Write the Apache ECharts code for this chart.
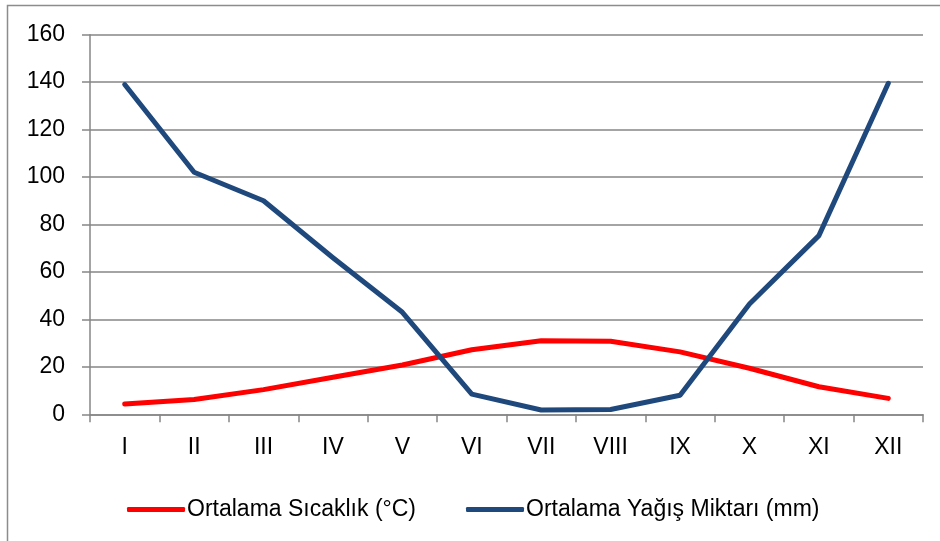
<!DOCTYPE html>
<html><head><meta charset="utf-8">
<script src="https://cdn.jsdelivr.net/npm/echarts@6/dist/echarts.min.js"></script>
<style>html,body{margin:0;padding:0;background:#fff}#c{width:940px;height:541px}</style>
</head><body><div id="c"></div>
<script>
const months = ['I','II','III','IV','V','VI','VII','VIII','IX','X','XI','XII'];
const temperature = [4.3, 6.2, 10.4, 15.6, 20.8, 27.2, 31.0, 30.8, 26.3, 19.4, 11.6, 6.7];
const precipitation = [139, 102, 90, 66, 43, 8.5, 1.8, 2, 8, 46.5, 75.3, 139.5];
const yTicks = {min: 0, max: 160, interval: 20};
const names = ['Ortalama Sıcaklık (°C)', 'Ortalama Yağış Miktarı (mm)'];

const font = 'Liberation Sans';
const chart = echarts.init(document.getElementById('c'), null, {renderer: 'canvas'});
chart.setOption({
  animation: false,
  backgroundColor: '#fff',
  textStyle: {fontFamily: font},
  graphic: [{type: 'rect', shape: {x: 7.5, y: 5.5, width: 1000, height: 1000}, style: {fill: 'none', stroke: '#8c8c8c', lineWidth: 1.5}, silent: true}],
  grid: {left: 90, right: 17, top: 34.7, bottom: 126.7, containLabel: false},
  legend: {
    left: 122, top: 493, itemWidth: 58, itemHeight: 5, itemGap: 50,
    icon: 'roundRect',
    textStyle: {fontFamily: font, fontSize: 23, color: '#000', padding: [0, 0, 0, -3]},
    data: names
  },
  xAxis: {
    type: 'category', data: months, boundaryGap: true,
    axisLine: {lineStyle: {color: '#868686', width: 1.5}},
    axisTick: {show: true, alignWithLabel: false, length: 8, lineStyle: {color: '#868686', width: 1.5}},
    axisLabel: {color: '#000', fontSize: 23, margin: 22, fontFamily: font, interval: 0}
  },
  yAxis: {
    type: 'value', min: yTicks.min, max: yTicks.max, interval: yTicks.interval,
    axisLine: {show: true, lineStyle: {color: '#868686', width: 1.5}},
    axisTick: {show: true, length: 8, lineStyle: {color: '#868686', width: 1.5}},
    axisLabel: {color: '#000', fontSize: 23, margin: 25, fontFamily: font},
    splitLine: {show: true, lineStyle: {color: '#868686', width: 1.5}}
  },
  series: [
    {name: names[0], type: 'line', data: temperature, showSymbol: false, symbol: 'none',
     lineStyle: {color: '#FF0000', width: 5, cap: 'round', join: 'round'}, itemStyle: {color: '#FF0000'}},
    {name: names[1], type: 'line', data: precipitation, showSymbol: false, symbol: 'none',
     lineStyle: {color: '#1F497D', width: 5, cap: 'round', join: 'round'}, itemStyle: {color: '#1F497D'}}
  ]
});
</script></body></html>
